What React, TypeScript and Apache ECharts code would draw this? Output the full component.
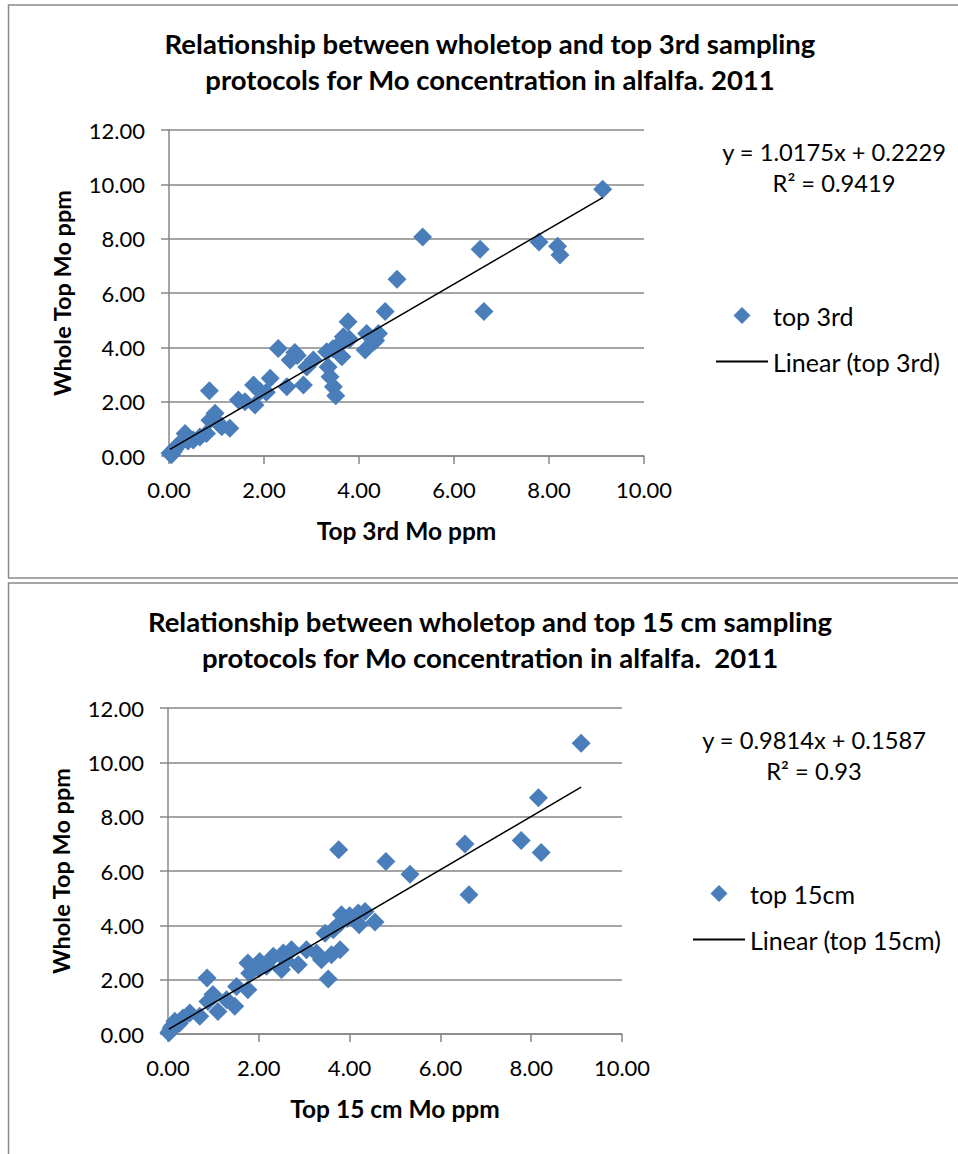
import { useEffect, useRef } from 'react'
import * as echarts from 'echarts'

// top 3rd sampling vs whole top (ppm)
const TOP3RD_X = [
  9.13, 5.34, 6.55, 7.79, 8.18, 8.23, 6.63, 4.8, 4.55, 3.77, 2.3, 2.65, 2.55, 0.85, 3.51,
  4.16, 4.41, 4.3, 4.13, 3.67, 3.53, 3.32, 3.64, 3.04, 2.9, 3.35, 3.39, 3.46, 2.83, 2.48,
  2.13, 1.78, 1.92, 1.81, 1.46, 1.28, 0.97, 0.86, 0.79, 0.34, 0.23, 0.09, 0.02, 0.16, 0.51,
  1.11, 0.05, 0.12, 0.4, 0.65, 1.05, 2.05, 2.7, 3.45, 3.6, 3.8, 4.35, 1.6
]
const TOP3RD_WHOLE = [
  9.82, 8.06, 7.61, 7.88, 7.72, 7.4, 5.32, 6.51, 5.32, 4.94, 3.96, 3.81, 3.53, 2.4, 2.22,
  4.51, 4.51, 4.2, 3.9, 4.39, 4.02, 3.84, 3.65, 3.53, 3.28, 3.28, 2.92, 2.55, 2.61, 2.55,
  2.86, 2.61, 2.37, 1.88, 2.06, 1.02, 1.57, 1.32, 0.83, 0.83, 0.47, 0.16, 0.1, 0.34, 0.59,
  1.08, 0.05, 0.25, 0.55, 0.7, 1.2, 2.35, 3.7, 3.95, 4.1, 4.3, 4.25, 2.0
]

// top 15 cm sampling vs whole top (ppm)
const TOP15_X = [
  9.1, 8.16, 7.78, 8.22, 6.54, 6.63, 3.76, 4.8, 5.33, 3.82, 4.19, 4.34, 4.56, 4.21, 3.79,
  3.64, 3.46, 3.79, 3.6, 3.38, 3.27, 3.53, 3.05, 2.87, 2.72, 2.54, 2.5, 2.32, 2.17, 2.02,
  1.76, 1.8, 1.76, 1.51, 0.86, 1.47, 1.1, 0.99, 0.88, 0.7, 0.48, 0.33, 0.15, 0.07, 0.04,
  0.18, 1.29, 0.02, 0.1, 0.25, 3.95, 2.6, 2.0, 4.0
]
const TOP15_WHOLE = [
  10.7, 8.7, 7.12, 6.68, 6.99, 5.13, 6.78, 6.35, 5.88, 4.39, 4.45, 4.51, 4.12, 4.02, 4.08,
  3.84, 3.71, 3.1, 2.92, 2.73, 2.98, 2.02, 3.1, 2.55, 3.1, 2.98, 2.37, 2.86, 2.49, 2.67,
  2.61, 2.24, 1.63, 1.75, 2.06, 1.02, 0.83, 1.45, 1.2, 0.65, 0.77, 0.59, 0.47, 0.22, 0.1,
  0.34, 1.26, 0.05, 0.3, 0.4, 4.25, 2.7, 2.4, 4.35
]

const TOP3RD_FIT = [1.0175, 0.2229]
const TOP15_FIT = [0.9814, 0.1587]
const TOP3RD_EQ = ['y = 1.0175x + 0.2229', 'R² = 0.9419']
const TOP15_EQ = ['y = 0.9814x + 0.1587', 'R² = 0.93']

const FONT = 'Lato, "Noto Sans", sans-serif'
const MARKER = '#4a7ebb'
const AXIS_GREY = '#878787'
const DIAMOND = 'path://M5,0L10,5L5,10L0,5Z'
const DASH = 'path://M0,0L52,0L52,2L0,2Z'

interface Panel {
  title: string
  xName: string
  seriesName: string
  xs: number[]
  ys: number[]
  fit: number[]
  eq: string[]
  grid: { left: number; top: number; width: number; height: number }
  titleY: number
  eqX: number
  eqY: number
  legendLeft: number
  legendTop: number
}

const PANELS: Panel[] = [
  {
    title: 'Relationship between wholetop and top 3rd sampling\nprotocols for Mo concentration in alfalfa. 2011',
    xName: 'Top 3rd Mo ppm',
    seriesName: 'top 3rd',
    xs: TOP3RD_X,
    ys: TOP3RD_WHOLE,
    fit: TOP3RD_FIT,
    eq: TOP3RD_EQ,
    grid: { left: 169, top: 130, width: 475, height: 326 },
    titleY: 61,
    eqX: 834,
    eqY: 136,
    legendLeft: 716,
    legendTop: 303
  },
  {
    title: 'Relationship between wholetop and top 15 cm sampling\nprotocols for Mo concentration in alfalfa.  2011',
    xName: 'Top 15 cm Mo ppm',
    seriesName: 'top 15cm',
    xs: TOP15_X,
    ys: TOP15_WHOLE,
    fit: TOP15_FIT,
    eq: TOP15_EQ,
    grid: { left: 168, top: 708, width: 454, height: 326 },
    titleY: 639,
    eqX: 814,
    eqY: 724,
    legendLeft: 693,
    legendTop: 881
  }
]

function fmt(v: number) {
  return v.toFixed(2)
}

export default function App() {
  const ref = useRef<HTMLDivElement>(null)

  useEffect(() => {
    if (!ref.current) return
    const chart = echarts.init(ref.current, null, { renderer: 'svg' })

    const grids: any[] = []
    const xAxes: any[] = []
    const yAxes: any[] = []
    const series: any[] = []
    const legends: any[] = []
    const graphics: any[] = [
      {
        type: 'rect',
        shape: { x: 8.5, y: 5, width: 980, height: 573 },
        style: { fill: 'none', stroke: '#8a8a8a', lineWidth: 1.5 },
        silent: true
      },
      {
        type: 'rect',
        shape: { x: 8.5, y: 583, width: 980, height: 620 },
        style: { fill: 'none', stroke: '#8a8a8a', lineWidth: 1.5 },
        silent: true
      }
    ]

    PANELS.forEach((p, i) => {
      grids.push({ ...p.grid })
      const axisCommon = {
        gridIndex: i,
        min: 0,
        interval: 2,
        axisLine: { show: true, onZero: false, lineStyle: { color: AXIS_GREY, width: 1.5 } },
        axisTick: { show: true, length: 8, lineStyle: { color: AXIS_GREY, width: 1.5 } },
        axisLabel: { color: '#000', fontFamily: FONT, fontSize: 22, formatter: fmt },
        nameTextStyle: { color: '#000', fontFamily: FONT, fontSize: 24.5, fontWeight: 'bold' },
        nameLocation: 'middle'
      }
      xAxes.push({
        ...axisCommon,
        type: 'value',
        max: 10,
        name: p.xName,
        nameGap: 62,
        splitLine: { show: false },
        axisLabel: { ...axisCommon.axisLabel, margin: 22 }
      })
      yAxes.push({
        ...axisCommon,
        type: 'value',
        max: 12,
        name: 'Whole Top Mo ppm',
        nameGap: 95,
        splitLine: { show: true, lineStyle: { color: AXIS_GREY, width: 1.5 } },
        axisLabel: { ...axisCommon.axisLabel, margin: 24 },
        nameTextStyle: { ...axisCommon.nameTextStyle, fontSize: 23.5 }
      })

      const pts = p.xs.map((x, k) => [x, p.ys[k]])
      const xmin = Math.min(...p.xs)
      const xmax = Math.max(...p.xs)
      const [slope, intercept] = p.fit
      series.push({
        type: 'scatter',
        name: p.seriesName,
        xAxisIndex: i,
        yAxisIndex: i,
        symbol: 'diamond',
        symbolSize: 19,
        itemStyle: { color: MARKER, opacity: 1 },
        data: pts,
        z: 2
      })
      series.push({
        type: 'line',
        name: `Linear (${p.seriesName})`,
        xAxisIndex: i,
        yAxisIndex: i,
        symbol: 'none',
        color: '#000',
        lineStyle: { color: '#000', width: 1.5 },
        itemStyle: { color: '#000' },
        data: [
          [xmin, slope * xmin + intercept],
          [xmax, slope * xmax + intercept]
        ],
        z: 3
      })

      legends.push({
        orient: 'vertical',
        left: p.legendLeft,
        top: p.legendTop,
        itemWidth: 52,
        itemHeight: 17,
        itemGap: 21,
        padding: 0,
        selectedMode: false,
        textStyle: { color: '#000', fontFamily: FONT, fontSize: 25 },
        data: [
          { name: p.seriesName, icon: DIAMOND, itemStyle: { color: MARKER } },
          { name: `Linear (${p.seriesName})`, icon: DASH, itemStyle: { color: '#000' } }
        ]
      })

      graphics.push({
        type: 'text',
        x: 490,
        y: p.titleY,
        silent: true,
        style: {
          text: p.title,
          fill: '#000',
          font: `bold 27.5px ${FONT}`,
          lineHeight: 36,
          align: 'center',
          verticalAlign: 'middle'
        }
      })
      graphics.push({
        type: 'text',
        x: p.eqX,
        y: p.eqY,
        silent: true,
        style: {
          text: p.eq.join('\n'),
          fill: '#000',
          font: `23.7px ${FONT}`,
          lineHeight: 31,
          align: 'center',
          verticalAlign: 'top'
        }
      })
    })

    chart.setOption({
      animation: false,
      backgroundColor: '#fff',
      grid: grids,
      xAxis: xAxes,
      yAxis: yAxes,
      series,
      legend: legends,
      graphic: graphics
    })

    return () => chart.dispose()
  }, [])

  return (
    <div
      ref={ref}
      style={{ position: 'absolute', left: 0, top: 0, width: 958, height: 1154 }}
    />
  )
}
